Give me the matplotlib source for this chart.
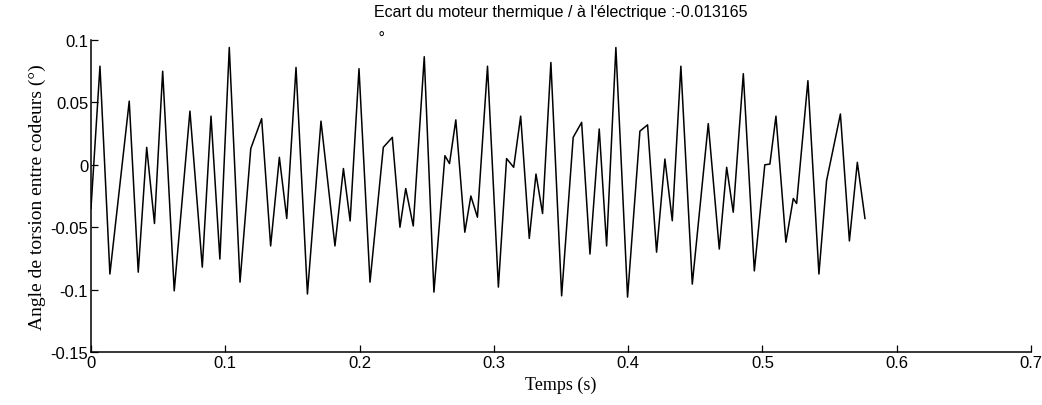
import matplotlib
matplotlib.use('Agg')
import matplotlib.pyplot as plt

plt.rcParams['axes.unicode_minus'] = False

# Torsion angle (peaks, troughs and shoulders)
temps = [0.000, 0.0067, 0.0141, 0.0285, 0.0352, 0.0415, 0.0473, 0.0534, 0.0620, 0.0737,
         0.0829, 0.0894, 0.0960, 0.1030, 0.1110, 0.1190, 0.1271, 0.1338, 0.1403, 0.1458,
         0.1527, 0.1612, 0.1713, 0.1817, 0.1880, 0.1930, 0.1996, 0.2078, 0.2177, 0.2244,
         0.2301, 0.2344, 0.2400, 0.2482, 0.2554, 0.2636, 0.2670, 0.2717, 0.2784, 0.2829,
         0.2878, 0.2953, 0.3034, 0.3095, 0.3148, 0.3200, 0.3264, 0.3314, 0.3363, 0.3425,
         0.3505, 0.3591, 0.3654, 0.3716, 0.3785, 0.3840, 0.3909, 0.3996, 0.4088, 0.4145,
         0.4212, 0.4274, 0.4329, 0.4393, 0.4478, 0.4597, 0.4679, 0.4734, 0.4783, 0.4858,
         0.4940, 0.5018, 0.5056, 0.5101, 0.5175, 0.5230, 0.5255, 0.5339, 0.5421, 0.5478,
         0.5540, 0.5581, 0.5648, 0.5707, 0.5764]
angle = [-0.035, 0.079, -0.0875, 0.051, -0.086, 0.014, -0.047, 0.075, -0.101, 0.043,
         -0.082, 0.039, -0.0755, 0.094, -0.094, 0.013, 0.037, -0.065, 0.006, -0.043,
         0.078, -0.1035, 0.035, -0.065, -0.003, -0.045, 0.077, -0.094, 0.014, 0.022,
         -0.050, -0.019, -0.049, 0.0866, -0.102, 0.0073, 0.001, 0.036, -0.054, -0.025,
         -0.042, 0.079, -0.098, 0.005, -0.002, 0.039, -0.059, -0.0074, -0.039, 0.082,
         -0.105, 0.022, 0.034, -0.0715, 0.0287, -0.065, 0.094, -0.106, 0.027, 0.032,
         -0.070, 0.0046, -0.0448, 0.079, -0.0956, 0.033, -0.0675, -0.002, -0.038, 0.073,
         -0.085, 0.000, 0.0006, 0.039, -0.062, -0.027, -0.031, 0.0674, -0.0875, -0.0127,
         0.0194, 0.0407, -0.061, 0.002, -0.043]

xticks = [0, 0.1, 0.2, 0.3, 0.4, 0.5, 0.6, 0.7]
xtick_labels = ['0', '0.1', '0.2', '0.3', '0.4', '0.5', '0.6', '0.7']
yticks = [-0.15, -0.1, -0.05, 0, 0.05, 0.1]
ytick_labels = ['-0.15', '-0.1', '-0.05', '0', '0.05', '0.1']

fig = plt.figure(figsize=(10.42, 4.06), dpi=100)
ax = fig.add_axes([0.0873, 0.1305, 0.9021, 0.7685])

ax.plot(temps, angle, color='black', linewidth=1.1)

ax.set_xlim(0, 0.7)
ax.set_ylim(-0.15, 0.1)
ax.set_xticks(xticks)
ax.set_xticklabels(xtick_labels, family='Liberation Sans', fontsize=12)
ax.set_yticks(yticks)
ax.set_yticklabels(ytick_labels, family='Liberation Sans', fontsize=12)
ax.tick_params(direction='in', length=5, width=0.9, pad=2)

# MATLAB style: only left and bottom axes
ax.spines['top'].set_visible(False)
ax.spines['right'].set_visible(False)
ax.spines['left'].set_linewidth(1.1)
ax.spines['bottom'].set_linewidth(1.1)

ax.set_xlabel('Temps (s)', family='Liberation Serif', fontsize=13, labelpad=4)
ax.set_ylabel('Angle de torsion entre codeurs (°)', family='Liberation Serif', fontsize=14, labelpad=3)

# title on two lines, the degree sign wrapped onto the second one
ax.text(0.5, 0.985, "Ecart du moteur thermique / à l'électrique :-0.013165\n °",
        transform=ax.transAxes, ha='center', va='bottom', multialignment='left',
        family='Liberation Sans', fontsize=11.5, linespacing=1.85)

fig.savefig('out.png', dpi=100)
